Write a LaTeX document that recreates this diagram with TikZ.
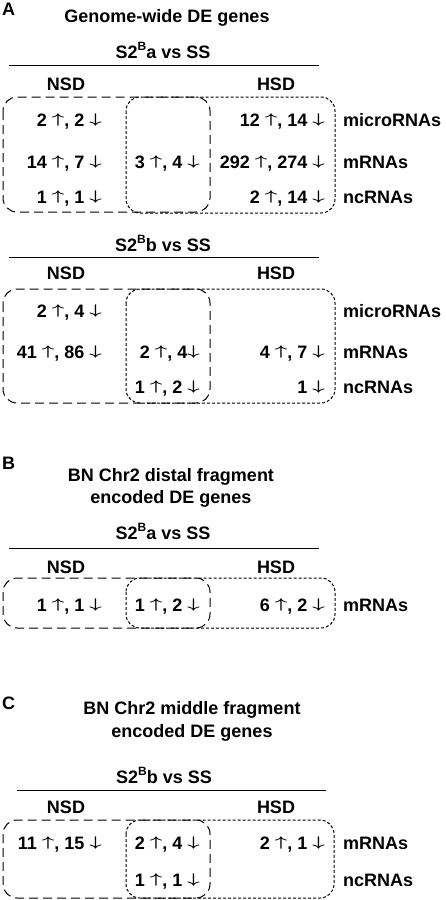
\documentclass[tikz,border=0pt]{standalone}
\usepackage{fontspec}
\usepackage{graphicx}
\setmainfont{Liberation Sans}
\newcommand{\uarr}{\raisebox{2.8pt}{\scalebox{1.25}[0.81]{\fontsize{18}{18}\selectfont\boldmath$\uparrow$}}}
\newcommand{\darr}{\raisebox{2.8pt}{\scalebox{1.25}[0.81]{\fontsize{18}{18}\selectfont\boldmath$\downarrow$}}}
\newcommand{\sB}{\raisebox{0.45em}{\fontsize{12}{12}\selectfont B}}
\begin{document}
\begin{tikzpicture}[x=1pt,y=-1pt,
  every node/.style={font=\bfseries\fontsize{18}{21}\selectfont, inner sep=0pt, text height=13pt, text depth=0pt},
  lbl/.style={anchor=west},
  num/.style={anchor=east},
  rule/.style={line width=1pt},
  longdash/.style={draw, line width=1pt, dash pattern=on 9pt off 5pt, rounded corners=14pt},
  shortdash/.style={draw, line width=1pt, dash pattern=on 3pt off 2pt, rounded corners=14pt}]
\useasboundingbox (0,0) rectangle (445,900);

% ---------------- Panel A ----------------
\node[anchor=west] (A) at (2,9) {A};
\node (Atitle) at (167,16) {Genome-wide DE genes};
\node (Acmp1) at (163,52) {S2\sB a vs SS};
\coordinate (A1l) at (9,65); \coordinate (A1r) at (319,65);
\draw[rule] (A1l) -- (A1r);
\node (A1nsd) at (66,84) {NSD};
\node (A1hsd) at (276,84) {HSD};
\draw[longdash] (3,97) rectangle (210,212);
\draw[shortdash] (126,97) rectangle (335,213);
\node[num] (A1n1) at (102,120) {2 \uarr, 2 \darr};
\node[num] (A1n2) at (102,162) {14 \uarr, 7 \darr};
\node[num] (A1n3) at (102,197) {1 \uarr, 1 \darr};
\node[num] (A1m2) at (200,162) {3 \uarr, 4 \darr};
\node[num] (A1h1) at (325,120) {12 \uarr, 14 \darr};
\node[num] (A1h2) at (325,162) {292 \uarr, 274 \darr};
\node[num] (A1h3) at (325,197) {2 \uarr, 14 \darr};
\node[lbl] (A1r1) at (343,120) {microRNAs};
\node[lbl] (A1r2) at (343,162) {mRNAs};
\node[lbl] (A1r3) at (343,197) {ncRNAs};

\node (Acmp2) at (163,245) {S2\sB b vs SS};
\coordinate (A2l) at (9,257); \coordinate (A2r) at (319,257);
\draw[rule] (A2l) -- (A2r);
\node (A2nsd) at (66,273) {NSD};
\node (A2hsd) at (276,273) {HSD};
\draw[longdash] (3,289) rectangle (210,403);
\draw[shortdash] (126,289) rectangle (335,403);
\node[num] (A2n1) at (102,311) {2 \uarr, 4 \darr};
\node[num] (A2n2) at (102,352) {41 \uarr, 86 \darr};
\node[num] (A2m2) at (200,352) {2 \uarr, 4\darr};
\node[num] (A2m3) at (200,387) {1 \uarr, 2 \darr};
\node[num] (A2h2) at (325,352) {4 \uarr, 7 \darr};
\node[num] (A2h3) at (325,387) {1 \darr};
\node[lbl] (A2r1) at (343,311) {microRNAs};
\node[lbl] (A2r2) at (343,352) {mRNAs};
\node[lbl] (A2r3) at (343,387) {ncRNAs};

% ---------------- Panel B ----------------
\node[anchor=west] (B) at (2,463) {B};
\node (Bt1) at (171,475) {BN Chr2 distal fragment};
\node (Bt2) at (171,497) {encoded DE genes};
\node (Bcmp) at (163,533) {S2\sB a vs SS};
\coordinate (Bl) at (9,548); \coordinate (Br) at (319,548);
\draw[rule] (Bl) -- (Br);
\node (Bnsd) at (66,567) {NSD};
\node (Bhsd) at (276,567) {HSD};
\draw[longdash] (3,578) rectangle (210,628);
\draw[shortdash] (126,578) rectangle (335,628);
\node[num] (Bn) at (102,605) {1 \uarr, 1 \darr};
\node[num] (Bm) at (200,605) {1 \uarr, 2 \darr};
\node[num] (Bh) at (325,605) {6 \uarr, 2 \darr};
\node[lbl] (Brow) at (343,605) {mRNAs};

% ---------------- Panel C ----------------
\node[anchor=west] (C) at (2,703) {C};
\node (Ct1) at (192,708) {BN Chr2 middle fragment};
\node (Ct2) at (192,731) {encoded DE genes};
\node (Ccmp) at (164,777) {S2\sB b vs SS};
\coordinate (Cl) at (17,790); \coordinate (Cr) at (326,790);
\draw[rule] (Cl) -- (Cr);
\node (Cnsd) at (66,807) {NSD};
\node (Chsd) at (276,807) {HSD};
\draw[longdash] (3,820) rectangle (210,898);
\draw[shortdash] (126,820) rectangle (334,898);
\node[num] (Cn) at (102,843) {11 \uarr, 15 \darr};
\node[num] (Cm1) at (200,843) {2 \uarr, 4 \darr};
\node[num] (Cm2) at (200,880) {1 \uarr, 1 \darr};
\node[num] (Ch) at (325,843) {2 \uarr, 1 \darr};
\node[lbl] (Cr1) at (343,843) {mRNAs};
\node[lbl] (Cr2) at (343,880) {ncRNAs};
\end{tikzpicture}
\end{document}
